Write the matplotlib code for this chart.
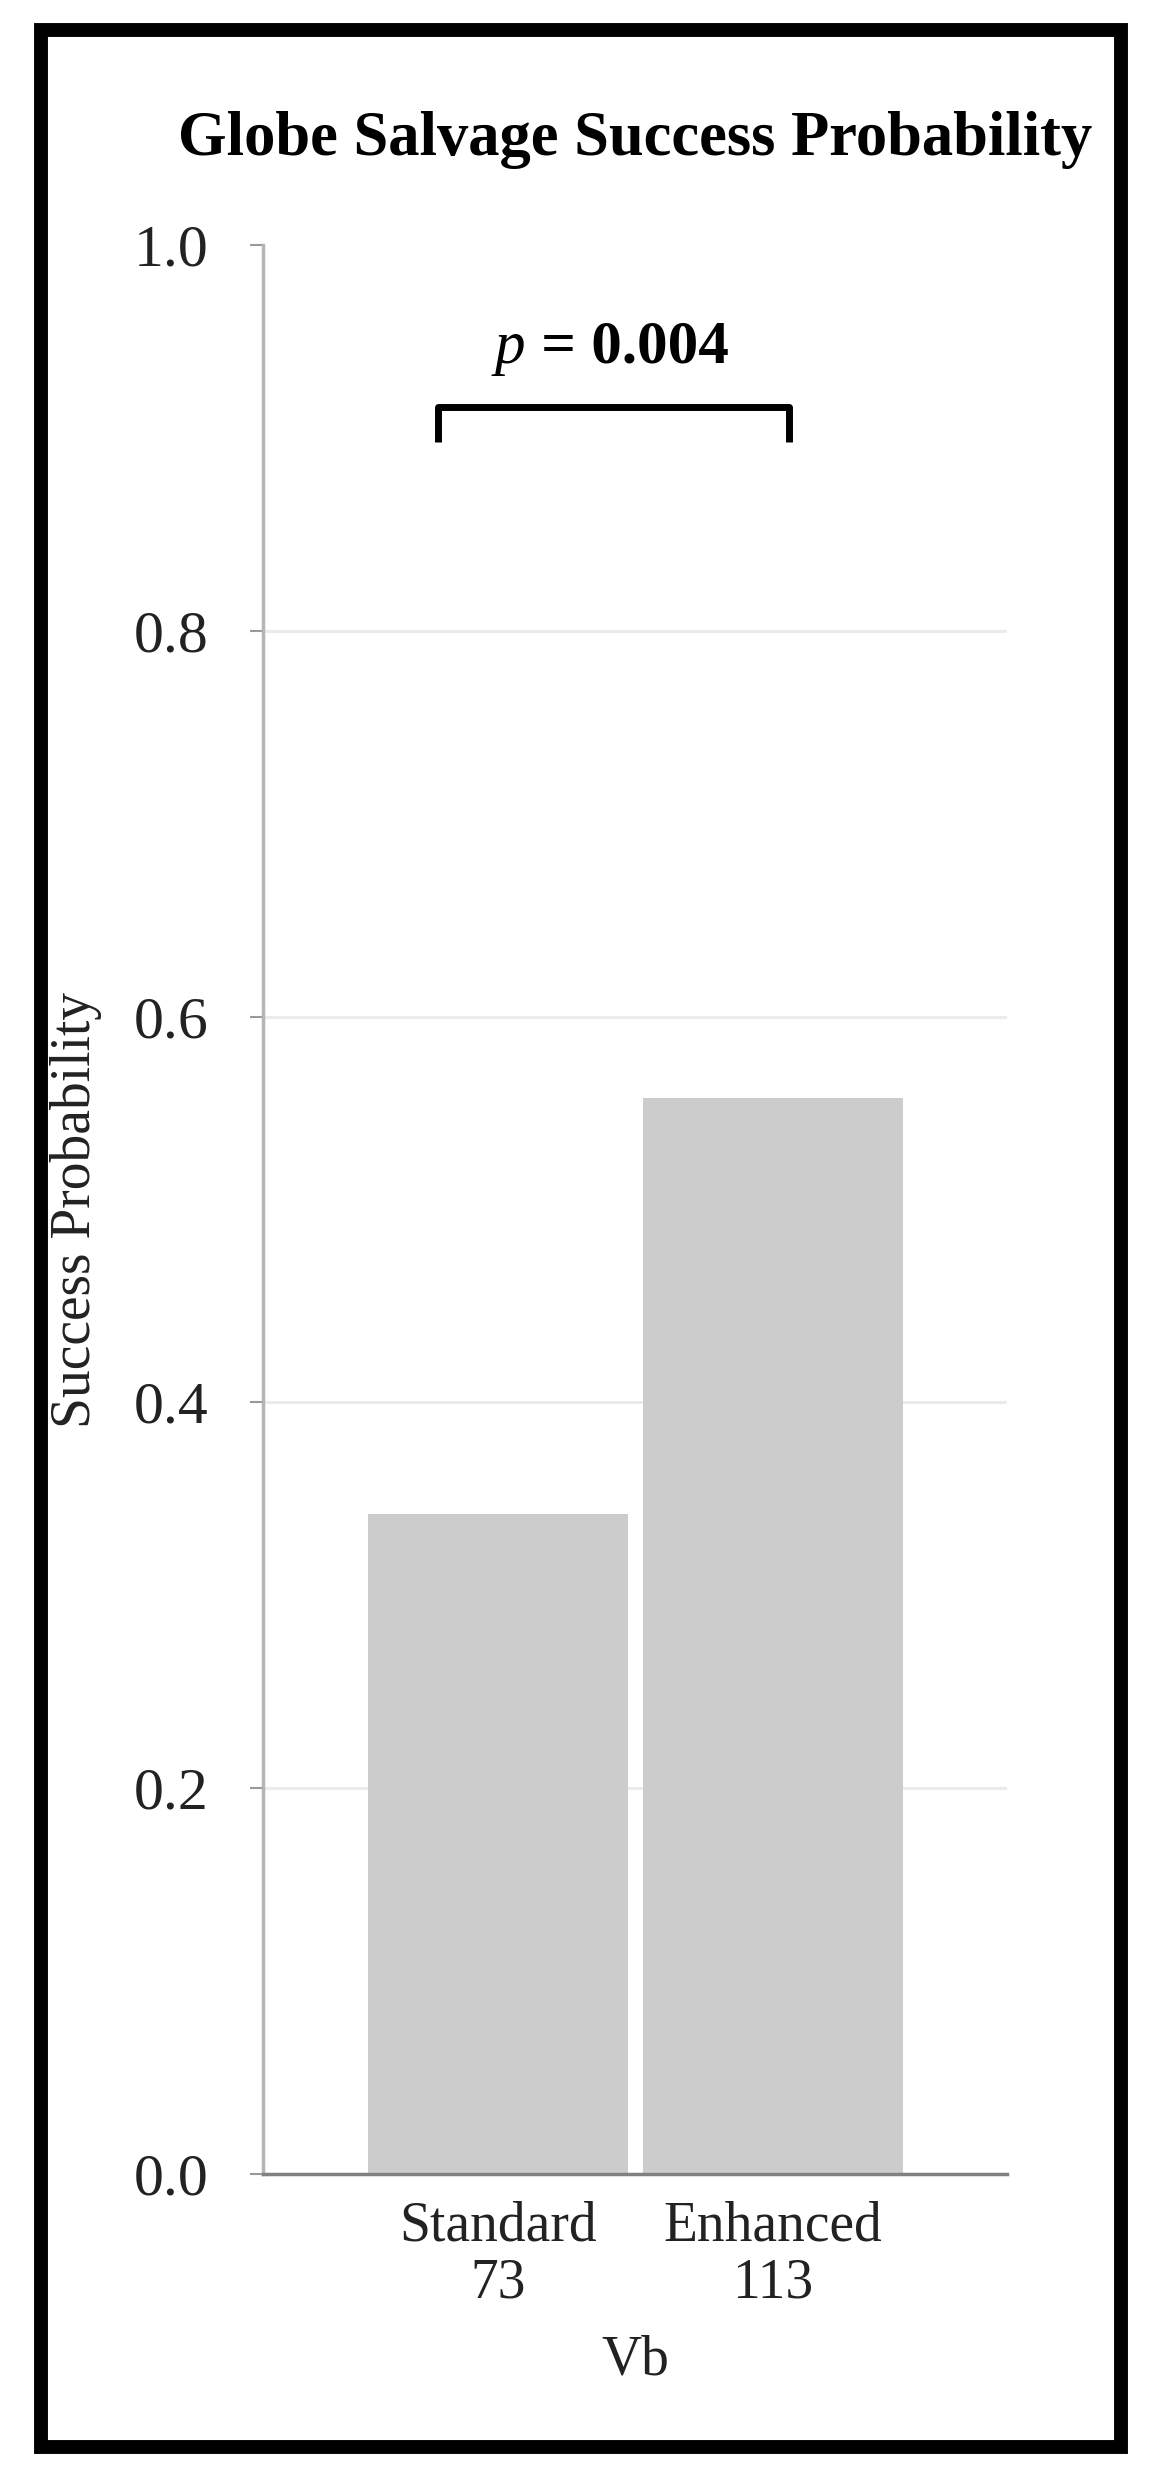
import matplotlib
matplotlib.use('Agg')
import matplotlib.pyplot as plt
from matplotlib.patches import Rectangle

plt.rcParams['font.family'] = ['Liberation Serif', 'DejaVu Serif']

groups = ['Standard', 'Enhanced']
counts = [73, 113]
success = [0.342, 0.558]
yticks = [0.0, 0.2, 0.4, 0.6, 0.8, 1.0]
p_label = '0.004'

fig = plt.figure(figsize=(11.6, 24.84), dpi=100)
ax = fig.add_axes([263 / 1160, 310 / 2484, 744 / 1160, 1929 / 2484])

x = list(range(len(groups)))
ax.bar(x, success, width=0.945, color='#cccccc', zorder=2)

ax.set_xlim(-0.855, 1.851)
ax.set_ylim(0, 1.0)
ax.set_yticks(yticks)
ax.set_yticklabels(['%.1f' % t for t in yticks], fontsize=43, color='#222222')
ax.set_xticks(x)
ax.set_xticklabels(['%s\n%d' % (g, n) for g, n in zip(groups, counts)],
                   fontsize=40, color='#222222', linespacing=1.12)
ax.tick_params(axis='y', length=9.5, width=1.5, color='#999999', pad=30)
ax.tick_params(axis='x', length=0, pad=19)

# 网格线 (1.0 处不画)
ax.yaxis.grid(True, color='#ebebeb', linewidth=2.2, zorder=0)
ax.set_axisbelow(True)
ax.yaxis.get_gridlines()[-1].set_visible(False)

for s in ['top', 'right']:
    ax.spines[s].set_visible(False)
ax.spines['left'].set_color('#b5b5b5')
ax.spines['left'].set_linewidth(2.5)
ax.spines['bottom'].set_color('#808080')
ax.spines['bottom'].set_linewidth(2.5)

ax.set_xlabel('Vb', fontsize=40, color='#222222', va='baseline')
ax.xaxis.set_label_coords(0.5, -0.104)
ax.set_ylabel('Success Probability', fontsize=40, color='#222222', va='baseline')
ax.yaxis.set_label_coords(-0.2325, 0.5)

ax.text(0.5, 1.0465, 'Globe Salvage Success Probability', transform=ax.transAxes,
        ha='center', va='baseline', fontsize=45, fontweight='bold')

# 显著性括号
bx = [-0.218, -0.218, 1.058, 1.058]
by = [0.898, 0.916, 0.916, 0.898]
ax.plot(bx, by, color='black', linewidth=5, solid_capstyle='butt', clip_on=False, zorder=5)
ax.text(0.1, 0.939, 'p', ha='right', va='baseline', fontsize=44, style='italic')
ax.text(0.1, 0.939, ' = ' + p_label, ha='left', va='baseline', fontsize=44, fontweight='bold')

# 外框
fig.patches.append(Rectangle((40.5 / 1160, 37 / 2484), 1080 / 1160, 2417 / 2484,
                             transform=fig.transFigure, fill=False, linewidth=10,
                             edgecolor='black'))

plt.savefig('out.png', dpi=100)
